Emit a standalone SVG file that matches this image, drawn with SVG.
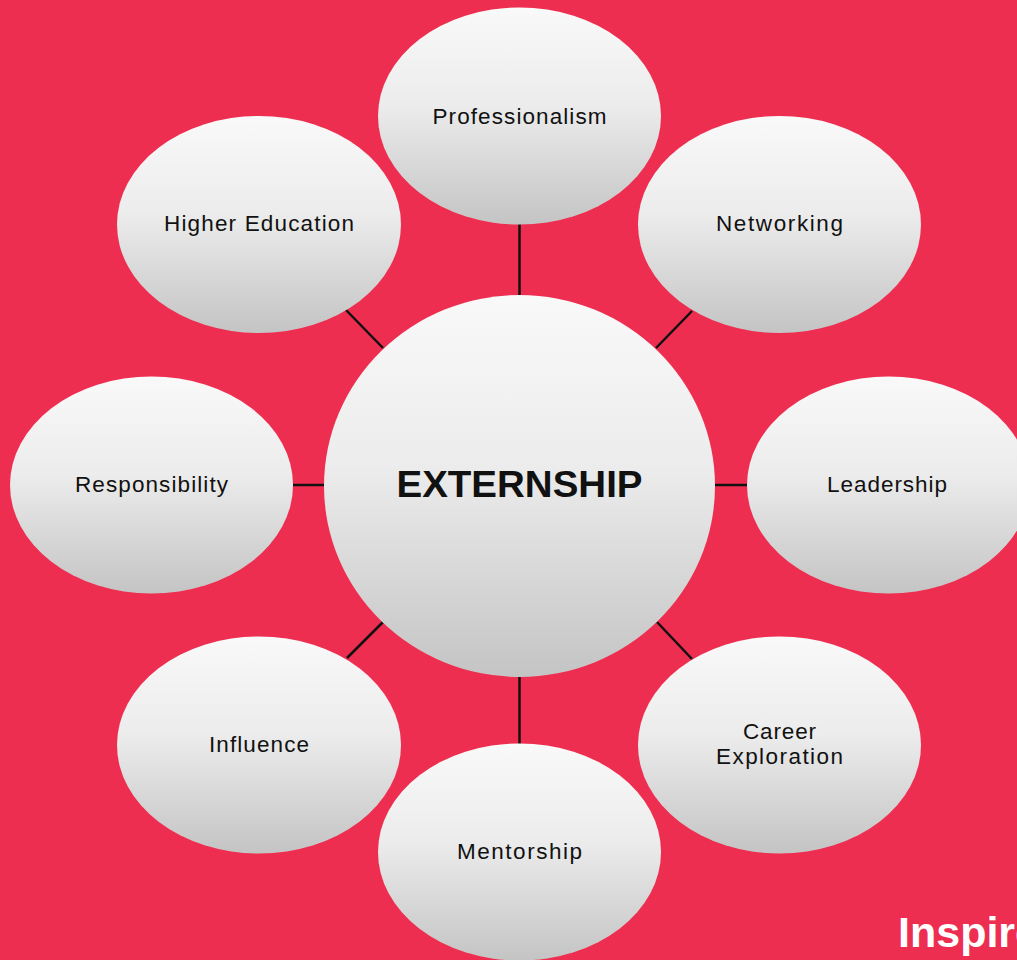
<svg xmlns="http://www.w3.org/2000/svg" width="1017" height="960" viewBox="0 0 1017 960">
<defs>
<linearGradient id="g" x1="0" y1="0" x2="0" y2="1">
<stop offset="0" stop-color="#f9f9f9"/>
<stop offset="0.45" stop-color="#ececec"/>
<stop offset="1" stop-color="#c4c4c4"/>
</linearGradient>
<style>
.n{fill:url(#g);}
.t{font-family:"Liberation Sans",Arial,sans-serif;font-size:22.5px;fill:#111;text-anchor:middle;}
.c{stroke:#111;stroke-width:2.5;fill:none;}
</style>
</defs>
<rect width="1017" height="960" fill="#ee2e50"/>
<g id="connectors">
<line class="c" x1="519.5" y1="222" x2="519.5" y2="297"/>
<line class="c" x1="519.5" y1="675" x2="519.5" y2="746"/>
<line class="c" x1="291" y1="485" x2="326" y2="485"/>
<line class="c" x1="713" y1="485" x2="749" y2="485"/>
<line class="c" x1="346" y1="310" x2="383" y2="348"/>
<line class="c" x1="692" y1="311" x2="656" y2="348"/>
<line class="c" x1="383" y1="622" x2="347" y2="658"/>
<line class="c" x1="657" y1="622" x2="692" y2="659"/>
</g>
<g id="center"><ellipse class="n" cx="519.5" cy="486" rx="195.5" ry="191"/>
<text x="519.5" y="497" style="font-family:'Liberation Sans',Arial,sans-serif;font-size:36px;font-weight:bold;fill:#111;text-anchor:middle" textLength="246" lengthAdjust="spacingAndGlyphs">EXTERNSHIP</text></g>
<g id="professionalism"><ellipse class="n" cx="519.5" cy="116" rx="141.5" ry="108.5"/>
<text class="t" x="519.5" y="124" textLength="174">Professionalism</text></g>
<g id="higher-education"><ellipse class="n" cx="259" cy="224.5" rx="142" ry="108.5"/>
<text class="t" x="259" y="231" textLength="190">Higher Education</text></g>
<g id="networking"><ellipse class="n" cx="779.5" cy="224.5" rx="141.5" ry="108.5"/>
<text class="t" x="779.5" y="231" textLength="127">Networking</text></g>
<g id="responsibility"><ellipse class="n" cx="151.5" cy="485" rx="141.5" ry="108.5"/>
<text class="t" x="151.5" y="492" textLength="153">Responsibility</text></g>
<g id="leadership"><ellipse class="n" cx="888.5" cy="485" rx="141.5" ry="108.5"/>
<text class="t" x="887" y="492" textLength="120">Leadership</text></g>
<g id="influence"><ellipse class="n" cx="259" cy="745" rx="142" ry="108.5"/>
<text class="t" x="259" y="752" textLength="100">Influence</text></g>
<g id="career-exploration"><ellipse class="n" cx="779.5" cy="745" rx="141.5" ry="108.5"/>
<text class="t" x="779.5" y="739" textLength="73">Career</text>
<text class="t" x="779.5" y="764" textLength="127">Exploration</text></g>
<g id="mentorship"><ellipse class="n" cx="519.5" cy="852" rx="141.5" ry="108.5"/>
<text class="t" x="519.5" y="859" textLength="125">Mentorship</text></g>
<text x="898" y="947" style="font-family:'Liberation Sans',Arial,sans-serif;font-size:43px;font-weight:bold;fill:#fff">Inspire</text>
</svg>
